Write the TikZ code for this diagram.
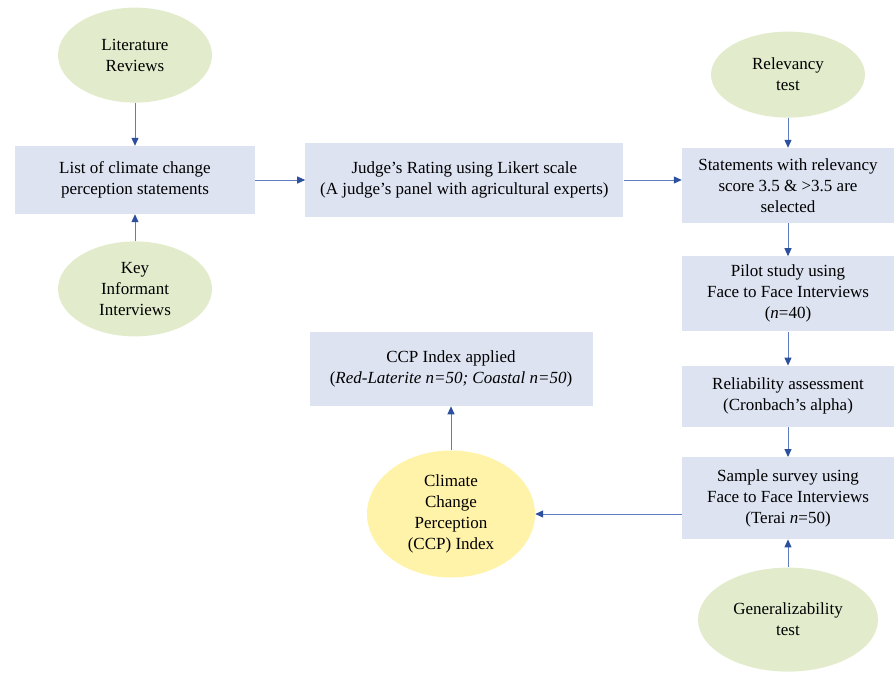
\documentclass[tikz,border=0pt]{standalone}
\usepackage{fontspec}
\setmainfont{Liberation Serif}
\usepackage{tikz}
\usetikzlibrary{shapes.geometric, arrows.meta, positioning}

\definecolor{boxfill}{RGB}{221,227,241}
\definecolor{leaf}{RGB}{226,236,204}
\definecolor{sun}{RGB}{255,243,170}
\definecolor{wire}{RGB}{96,124,192}
\definecolor{tip}{RGB}{44,80,158}

\begin{document}
\begin{tikzpicture}[
    x=1pt, y=-1pt,
    font=\fontsize{17}{21}\selectfont,
    block/.style={rectangle, fill=boxfill, minimum width=212pt, minimum height=75pt, align=center, inner sep=2pt},
    source/.style={ellipse, fill=leaf, minimum width=154pt, minimum height=95pt, align=center, inner sep=0pt},
    result/.style={ellipse, fill=sun, minimum width=168pt, minimum height=127pt, align=center, inner sep=0pt},
    arrow/.style={-{Triangle[length=8pt, width=7pt, color=tip]}, line width=1pt, draw=wire}
]
\useasboundingbox (0,0) rectangle (894,673);
% ---------------- STATEMENT BUILDING ----------------
\node[block, minimum width=240pt, minimum height=68pt] (list) at (135,180) {List of climate change\\perception statements};
\node[source, above=43pt of list] (lit) {Literature\\Reviews};
\node[source, below=27pt of list] (kii) {Key\\Informant\\Interviews};
\node[block, minimum width=318pt, minimum height=74pt, right=50pt of list] (judge) {Judge's Rating using Likert scale\\(A judge's panel with agricultural experts)};
% ---------------- VALIDATION COLUMN ----------------
\node[block] (stmt) at (788,185.5) {Statements with relevancy\\score 3.5 \& >3.5 are\\selected};
\node[source, minimum height=86pt, above=30pt of stmt] (relev) {Relevancy\\test};
\node[block, below=33pt of stmt] (pilot) {Pilot study using\\Face to Face Interviews\\(\textit{n}=40)};
\node[block, minimum height=61pt, below=34pt of pilot] (reliab) {Reliability assessment\\(Cronbach's alpha)};
\node[block, minimum height=82pt, below=30pt of reliab] (sample) {Sample survey using\\Face to Face Interviews\\(Terai \textit{n}=50)};
\node[source, minimum width=180pt, minimum height=104pt, below=28pt of sample] (gen) {Generalizability\\test};
% ---------------- INDEX ----------------
\node[result] (ccp) at (451,514) {Climate\\Change\\Perception\\(CCP) Index};
\node[block, minimum width=283pt, minimum height=74pt, above=44pt of ccp] (ccpidx) {CCP Index applied\\(\textit{Red-Laterite n=50; Coastal n=50})};
% ---------------- arrows ----------------
\draw[arrow] (lit.south) -- (lit.south |- list.north);
\draw[arrow] (kii.north) -- (kii.north |- list.south);
\draw[arrow] (list.east) -- (judge.west);
\draw[arrow] (judge.east) -- (judge.east -| stmt.west);
\draw[arrow] (relev.south) -- (relev.south |- stmt.north);
\draw[arrow] (stmt) -- (pilot);
\draw[arrow] (pilot) -- (reliab);
\draw[arrow] (reliab) -- (sample);
\draw[arrow] (gen.north) -- (gen.north |- sample.south);
\draw[arrow] (sample.west |- ccp.east) -- (ccp.east);
\draw[arrow] (ccp.north) -- (ccp.north |- ccpidx.south);
\end{tikzpicture}
\end{document}
